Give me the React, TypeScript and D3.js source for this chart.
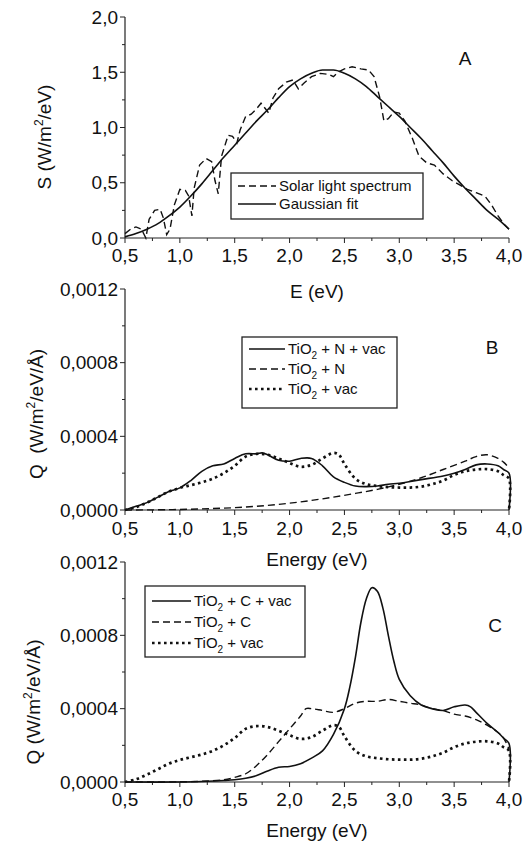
import React, { useEffect, useRef } from 'react';
import * as d3 from 'd3';

// Panel A: solar light spectrum (dashed) and its gaussian fit (solid)
const solarE = [0.5, 0.55, 0.6, 0.65, 0.69, 0.72, 0.77, 0.82, 0.85, 0.88, 0.91, 0.95, 1.0, 1.05, 1.08, 1.11, 1.13, 1.18, 1.24, 1.29, 1.32, 1.35, 1.38, 1.44, 1.48, 1.52, 1.55, 1.6, 1.65, 1.7, 1.74, 1.78, 1.81, 1.85, 1.9, 1.97, 2.03, 2.08, 2.13, 2.2, 2.28, 2.36, 2.4, 2.44, 2.5, 2.57, 2.65, 2.72, 2.77, 2.82, 2.86, 2.9, 2.95, 3.0, 3.05, 3.12, 3.18, 3.25, 3.32, 3.4, 3.48, 3.55, 3.62, 3.7, 3.78, 3.84, 3.9, 3.96, 4.0];
const solarS = [0.04, 0.08, 0.1, 0.08, 0.0, 0.17, 0.25, 0.26, 0.18, 0.03, 0.08, 0.3, 0.44, 0.43, 0.38, 0.2, 0.45, 0.66, 0.72, 0.69, 0.52, 0.4, 0.74, 0.93, 0.92, 0.86, 0.98, 1.1, 1.12, 1.17, 1.22, 1.17, 1.13, 1.27, 1.35, 1.41, 1.43, 1.35, 1.4, 1.46, 1.49, 1.48, 1.46, 1.5, 1.53, 1.55, 1.53, 1.52, 1.46, 1.28, 1.06, 1.08, 1.14, 1.13, 1.06, 0.9, 0.74, 0.68, 0.66, 0.58, 0.52, 0.48, 0.44, 0.41, 0.38, 0.3, 0.2, 0.12, 0.08];
const fitE = [0.5, 0.6, 0.7, 0.8, 0.9, 1.0, 1.1, 1.2, 1.3, 1.4, 1.5, 1.6, 1.7, 1.8, 1.9, 2.0, 2.1, 2.2, 2.3, 2.4, 2.5, 2.6, 2.7, 2.8, 2.9, 3.0, 3.1, 3.2, 3.3, 3.4, 3.5, 3.6, 3.7, 3.8, 3.9, 4.0];
const fitS = [0.01, 0.04, 0.08, 0.13, 0.2, 0.28, 0.38, 0.49, 0.61, 0.73, 0.84, 0.95, 1.06, 1.16, 1.27, 1.37, 1.44, 1.49, 1.52, 1.52, 1.49, 1.44, 1.37, 1.28, 1.19, 1.1, 1.0, 0.9, 0.79, 0.68, 0.56, 0.45, 0.35, 0.25, 0.17, 0.08];

// Panel B
const nVacE = [0.5, 0.6, 0.7, 0.8, 0.9, 1.0, 1.1, 1.2, 1.3, 1.4, 1.5, 1.6, 1.7, 1.75, 1.8, 1.9, 2.0, 2.1, 2.2, 2.3, 2.4, 2.5, 2.6, 2.7, 2.8, 2.9, 3.0, 3.2, 3.4, 3.5, 3.6, 3.7, 3.8, 3.9, 3.95, 4.0, 4.0];
const nVacQ = [0, 0.00002, 0.00004, 0.00007, 0.0001, 0.00012, 0.00016, 0.00021, 0.00024, 0.00025, 0.00028, 0.000305, 0.000305, 0.00031, 0.0003, 0.00027, 0.000265, 0.00028, 0.00028, 0.00024, 0.00018, 0.00015, 0.00013, 0.000127, 0.00013, 0.00014, 0.000145, 0.000165, 0.000185, 0.0002, 0.00022, 0.000245, 0.00025, 0.00024, 0.00022, 0.0002, 0];
const nE = [0.5, 0.8, 1.0, 1.2, 1.4, 1.6, 1.8, 2.0, 2.2, 2.4, 2.6, 2.8, 3.0, 3.2, 3.4, 3.6, 3.7, 3.8, 3.9, 3.95, 4.0];
const nQ = [0, 0.000001, 0.000003, 0.000006, 0.00001, 0.000016, 0.000025, 0.000037, 0.000052, 0.00007, 0.00009, 0.000112, 0.00014, 0.000175, 0.00022, 0.000265, 0.00029, 0.0003, 0.00028, 0.00026, 0.00023];

// TiO2 + vac, shared by B and C
const vacE = [0.5, 0.6, 0.7, 0.8, 0.9, 1.0, 1.1, 1.2, 1.3, 1.4, 1.5, 1.6, 1.7, 1.8, 1.9, 2.0, 2.1, 2.2, 2.3, 2.4, 2.45, 2.5, 2.6, 2.7, 2.8, 2.9, 3.0, 3.1, 3.2, 3.3, 3.4, 3.5, 3.6, 3.7, 3.8, 3.9, 3.95, 4.0, 4.0];
const vacQ = [0, 0.000015, 0.00004, 0.00007, 0.0001, 0.00012, 0.000135, 0.00015, 0.00017, 0.0002, 0.00024, 0.00029, 0.000305, 0.0003, 0.00028, 0.000255, 0.000235, 0.000245, 0.00028, 0.00031, 0.0003, 0.00025, 0.00017, 0.00014, 0.00013, 0.000124, 0.000122, 0.000122, 0.000127, 0.00014, 0.00016, 0.00019, 0.00021, 0.00022, 0.000222, 0.00021, 0.00019, 0.00017, 0];

// Panel C
const cVacE = [0.5, 1.0, 1.2, 1.4, 1.5, 1.6, 1.7, 1.8, 1.9, 2.0, 2.1, 2.2, 2.3, 2.4, 2.5, 2.55, 2.6, 2.65, 2.7, 2.75, 2.8, 2.85, 2.9, 2.95, 3.0, 3.1, 3.2, 3.3, 3.4, 3.5, 3.6, 3.65, 3.7, 3.8, 3.9, 3.95, 4.0, 4.0];
const cVacQ = [0, 0, 0.000003, 0.000008, 0.000012, 0.00002, 0.000035, 0.00006, 0.00008, 0.000085, 0.0001, 0.00013, 0.00017, 0.00026, 0.0004, 0.00052, 0.00068, 0.00087, 0.001, 0.00106, 0.00104, 0.00095, 0.0008, 0.00066, 0.00056, 0.00047, 0.00042, 0.0004, 0.00039, 0.00041, 0.00042, 0.00041, 0.00038, 0.00032, 0.00027, 0.00024, 0.00021, 0];
const cE = [0.5, 1.0, 1.2, 1.4, 1.5, 1.6, 1.7, 1.8, 1.9, 2.0, 2.1, 2.15, 2.2, 2.3, 2.4, 2.5, 2.6, 2.7, 2.8, 2.9, 3.0, 3.1, 3.2, 3.3, 3.4, 3.5, 3.6, 3.7, 3.8, 3.9, 3.95, 4.0];
const cQ = [0, 0.000001, 0.000004, 0.000012, 0.000025, 0.000045, 0.00009, 0.00015, 0.00022, 0.00029, 0.00036, 0.0004, 0.0004, 0.00039, 0.00038, 0.0004, 0.00043, 0.00044, 0.00044, 0.00045, 0.00044, 0.00043, 0.00042, 0.0004, 0.00039, 0.00037, 0.00036, 0.00034, 0.00031, 0.00027, 0.00024, 0.00018];

const eTicks = [0.5, 1.0, 1.5, 2.0, 2.5, 3.0, 3.5, 4.0];
const sTicks = [0, 0.5, 1.0, 1.5, 2.0];
const qTicks = [0, 0.0004, 0.0008, 0.0012];

const FONT = '"Liberation Sans", Arial, sans-serif';

const styles = {
  solid: { dash: null, width: 1.6 },
  dashed: { dash: '7,4', width: 1.4 },
  dotted: { dash: '2.6,3.4', width: 2.7 },
};

const comma = (f) => (v) => d3.format(f)(v).replace('.', ',');

function drawPanel(svg, p) {
  const x = d3.scaleLinear().domain([0.5, 4]).range([125, 509]);
  const y = d3.scaleLinear().domain(p.yDomain).range([p.bottom, p.top]);
  const g = svg.append('g').attr('font-family', FONT).attr('fill', '#111');

  // axes lines
  g.append('line').attr('x1', x(0.5)).attr('x2', x(4)).attr('y1', y(0)).attr('y2', y(0)).attr('stroke', '#222').attr('stroke-width', 1.2);
  g.append('line').attr('x1', x(0.5)).attr('x2', x(0.5)).attr('y1', y(0)).attr('y2', y(p.yDomain[1])).attr('stroke', '#222').attr('stroke-width', 1.2);

  // x ticks
  const xMinor = d3.range(0.5, 4.01, 0.25);
  xMinor.forEach((t, i) => {
    g.append('line').attr('x1', x(t)).attr('x2', x(t)).attr('y1', y(0)).attr('y2', y(0) + (i % 2 === 0 ? 5 : 3)).attr('stroke', '#222');
  });
  eTicks.forEach((t) => {
    g.append('text').attr('x', x(t)).attr('y', p.xLabelY).attr('text-anchor', 'middle').attr('font-size', 19).text(comma('.1f')(t));
  });

  // y ticks
  const yStep = (p.yTicks[1] - p.yTicks[0]) / 2;
  d3.range(0, p.yDomain[1] + yStep / 2, yStep).forEach((t, i) => {
    g.append('line').attr('x1', x(0.5)).attr('x2', x(0.5) - (i % 2 === 0 ? 5 : 3)).attr('y1', y(t)).attr('y2', y(t)).attr('stroke', '#222');
  });
  p.yTicks.forEach((t) => {
    g.append('text').attr('x', 118).attr('y', y(t)).attr('dy', '0.35em').attr('text-anchor', 'end').attr('font-size', 19).text(p.fmt(t));
  });

  // curves
  p.series.forEach((s) => {
    const pts = s.xs.map((v, i) => [v, s.ys[i]]);
    const line = d3.line().x((d) => x(d[0])).y((d) => y(d[1])).curve(s.curve || d3.curveCatmullRom.alpha(0.5));
    const st = styles[s.style];
    g.append('path').attr('d', line(pts)).attr('fill', 'none').attr('stroke', '#111')
      .attr('stroke-width', st.width).attr('stroke-dasharray', st.dash);
  });

  // axis titles
  g.append('text').attr('x', x(2.25)).attr('y', p.xTitleY).attr('text-anchor', 'middle').attr('font-size', 19).text(p.xTitle);
  const yt = g.append('text').attr('transform', `translate(${p.yTitleX},${p.yTitleY}) rotate(-90)`)
    .attr('text-anchor', 'middle').attr('font-size', 19).style('white-space', 'pre');
  yt.append('tspan').text(p.yTitle[0]);
  yt.append('tspan').attr('font-size', 12).attr('dy', -8).text('2');
  yt.append('tspan').attr('dy', 8).text(p.yTitle[1]);

  // panel letter
  g.append('text').attr('x', p.letterX).attr('y', p.letterY).attr('text-anchor', 'middle').attr('font-size', 19).text(p.letter);

  // legend
  const L = p.legend;
  g.append('rect').attr('x', L.x).attr('y', L.y).attr('width', L.w).attr('height', L.h)
    .attr('fill', 'white').attr('stroke', '#222').attr('stroke-width', 1.3);
  L.items.forEach((it, i) => {
    const ly = L.y + L.first + i * L.gap;
    const st = styles[it.style];
    g.append('line').attr('x1', L.x + 7).attr('x2', L.x + 7 + L.sample).attr('y1', ly).attr('y2', ly)
      .attr('stroke', '#111').attr('stroke-width', st.width).attr('stroke-dasharray', st.dash);
    const t = g.append('text').attr('x', L.x + 10 + L.sample).attr('y', ly).attr('dy', '0.35em').attr('font-size', 15);
    if (it.sub) {
      t.append('tspan').text(it.label[0]);
      t.append('tspan').attr('font-size', 10).attr('dy', 5).text('2');
      t.append('tspan').attr('dy', -5).text(it.label[1]);
    } else {
      t.text(it.label);
    }
  });
}

export default function App() {
  const ref = useRef(null);

  useEffect(() => {
    const svg = d3.select(ref.current);
    svg.selectAll('*').remove();

    drawPanel(svg, {
      top: 17, bottom: 238, yDomain: [0, 2], yTicks: sTicks, fmt: comma('.1f'),
      xLabelY: 262, xTitle: 'E (eV)', xTitleY: 298,
      yTitle: ['S (W/m', '/eV)'], yTitleX: 51, yTitleY: 137,
      letter: 'A', letterX: 465, letterY: 65,
      series: [
        { xs: solarE, ys: solarS, style: 'dashed', curve: d3.curveLinear },
        { xs: fitE, ys: fitS, style: 'solid', curve: d3.curveMonotoneX },
      ],
      legend: {
        x: 231, y: 173, w: 192, h: 46, first: 13, gap: 18, sample: 38,
        items: [
          { label: 'Solar light spectrum', style: 'dashed' },
          { label: 'Gaussian fit', style: 'solid' },
        ],
      },
    });

    drawPanel(svg, {
      top: 289, bottom: 510, yDomain: [0, 0.0012], yTicks: qTicks, fmt: comma('.4f'),
      xLabelY: 535, xTitle: 'Energy (eV)', xTitleY: 566,
      yTitle: ['Q  (W/m', '/eV/Å)'], yTitleX: 43, yTitleY: 414,
      letter: 'B', letterX: 492, letterY: 354,
      series: [
        { xs: nVacE, ys: nVacQ, style: 'solid' },
        { xs: nE, ys: nQ, style: 'dashed' },
        { xs: vacE, ys: vacQ, style: 'dotted' },
      ],
      legend: {
        x: 242, y: 337, w: 155, h: 71, first: 12, gap: 20, sample: 36,
        items: [
          { label: ['TiO', ' + N + vac'], style: 'solid', sub: true },
          { label: ['TiO', ' + N'], style: 'dashed', sub: true },
          { label: ['TiO', ' + vac'], style: 'dotted', sub: true },
        ],
      },
    });

    drawPanel(svg, {
      top: 562, bottom: 782, yDomain: [0, 0.0012], yTicks: qTicks, fmt: comma('.4f'),
      xLabelY: 806, xTitle: 'Energy (eV)', xTitleY: 837,
      yTitle: ['Q (W/m', '/eV/Å)'], yTitleX: 40, yTitleY: 702,
      letter: 'C', letterX: 495, letterY: 632,
      series: [
        { xs: cVacE, ys: cVacQ, style: 'solid' },
        { xs: cE, ys: cQ, style: 'dashed' },
        { xs: vacE, ys: vacQ, style: 'dotted' },
      ],
      legend: {
        x: 145, y: 586, w: 160, h: 71, first: 15, gap: 21, sample: 39,
        items: [
          { label: ['TiO', ' + C + vac'], style: 'solid', sub: true },
          { label: ['TiO', ' + C'], style: 'dashed', sub: true },
          { label: ['TiO', ' + vac'], style: 'dotted', sub: true },
        ],
      },
    });
  }, []);

  return (
    <svg ref={ref} width={531} height={850} style={{ position: 'absolute', left: 0, top: 0, background: 'white' }} />
  );
}
